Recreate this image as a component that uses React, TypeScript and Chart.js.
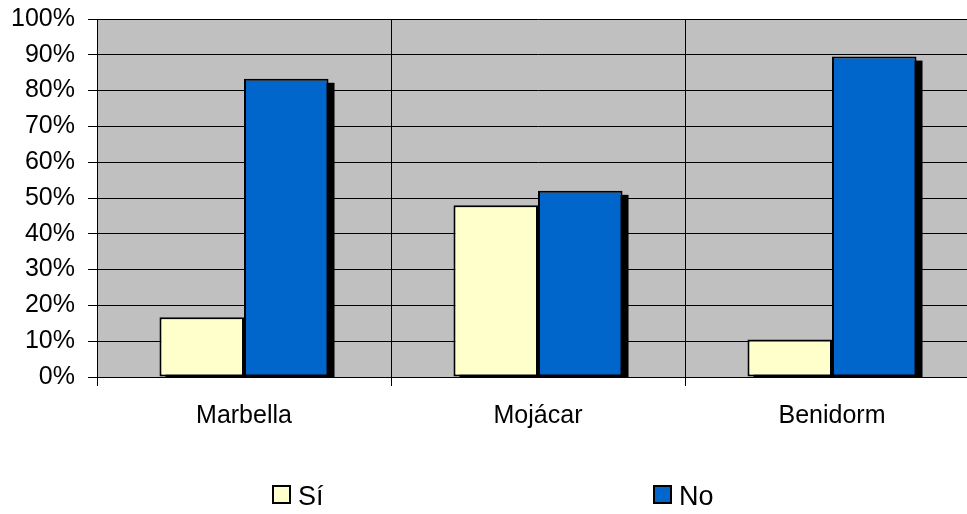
import React, { useEffect, useRef } from "react";
import { Chart, registerables } from "chart.js";

Chart.register(...registerables);

// ---- data ----
const categories = ["Marbella", "Mojácar", "Benidorm"];
const seriesNames = ["Sí", "No"];
const siValues = [16.7, 48, 10.5];
const noValues = [83.3, 52, 89.5];
const yMin = 0;
const yMax = 100;
const yStep = 10;

// ---- styles / layout ----
const seriesColors = ["#FFFFCC", "#0066CC"];
const FONT = "'Liberation Sans', Arial, sans-serif";
const CANVAS_W = 986;
const CANVAS_H = 514;
const LEGEND_BOX_X = [272, 653];
const LEGEND_CY = 494.5;
const LEGEND_BOX = 19;

const bgPlugin = {
  id: "plotBg",
  beforeDraw(chart: any) {
    const { ctx, chartArea } = chart;
    ctx.save();
    ctx.fillStyle = "#C0C0C0";
    ctx.fillRect(chartArea.left, chartArea.top, chartArea.right - chartArea.left, chartArea.bottom - chartArea.top);
    ctx.restore();
  },
};

const shadowPlugin = {
  id: "barShadow",
  beforeDatasetsDraw(chart: any) {
    const { ctx, chartArea } = chart;
    ctx.save();
    ctx.beginPath();
    ctx.rect(chartArea.left, chartArea.top, chartArea.right - chartArea.left, chartArea.bottom - chartArea.top);
    ctx.clip();
    ctx.fillStyle = "#000";
    chart.getSortedVisibleDatasetMetas().forEach((meta: any) => {
      meta.data.forEach((el: any) => {
        const { x, y, base, width } = el.getProps(["x", "y", "base", "width"], true);
        ctx.fillRect(x - width / 2 + 6, y + 4, width, base - y);
      });
    });
    ctx.restore();
  },
};

const legendPlugin = {
  id: "customLegend",
  afterDraw(chart: any) {
    const { ctx } = chart;
    ctx.save();
    chart.data.datasets.forEach((ds: any, i: number) => {
      const bx = LEGEND_BOX_X[i];
      const by = LEGEND_CY - LEGEND_BOX / 2;
      ctx.fillStyle = ds.backgroundColor;
      ctx.fillRect(bx, by, LEGEND_BOX, LEGEND_BOX);
      ctx.strokeStyle = "#000";
      ctx.lineWidth = 2;
      ctx.strokeRect(bx + 1, by + 1, LEGEND_BOX - 2, LEGEND_BOX - 2);
      ctx.fillStyle = "#000";
      ctx.font = `27px ${FONT}`;
      ctx.textBaseline = "alphabetic";
      ctx.textAlign = "left";
      ctx.fillText(ds.label, bx + LEGEND_BOX + 7, 505);
    });
    ctx.restore();
  },
};

export default function App() {
  const ref = useRef<HTMLCanvasElement | null>(null);

  useEffect(() => {
    if (!ref.current) return;
    const chart = new Chart(ref.current, {
      type: "bar",
      data: {
        labels: categories,
        datasets: [
          {
            label: seriesNames[0],
            data: siValues,
            backgroundColor: seriesColors[0],
            borderColor: "#000",
            borderWidth: 2,
            borderSkipped: false,
            barPercentage: 1,
            categoryPercentage: 0.575,
          },
          {
            label: seriesNames[1],
            data: noValues,
            backgroundColor: seriesColors[1],
            borderColor: "#000",
            borderWidth: 2,
            borderSkipped: false,
            barPercentage: 1,
            categoryPercentage: 0.575,
          },
        ],
      },
      options: {
        responsive: false,
        animation: false,
        devicePixelRatio: 1,
        layout: { padding: { top: 0, right: 7, bottom: 0, left: 0 } },
        plugins: {
          legend: { display: false },
          tooltip: { enabled: false },
        },
        scales: {
          x: {
            ticks: { font: { family: FONT, size: 25 }, color: "#000", padding: 15 },
            grid: { color: "#000", lineWidth: 1, offset: true, tickLength: 9, drawTicks: true },
            border: { color: "#000", width: 1 },
            afterFit: (s: any) => {
              s.height = 137;
            },
          },
          y: {
            min: yMin,
            max: yMax,
            ticks: {
              stepSize: yStep,
              callback: (v: any) => `${v}%`,
              font: { family: FONT, size: 25 },
              color: "#000",
              padding: 13,
            },
            grid: { color: "#000", lineWidth: 1, tickLength: 9, drawTicks: true },
            border: { color: "#000", width: 1 },
            afterFit: (s: any) => {
              s.width = 97;
              s.paddingTop = 19;
              s.paddingBottom = 0;
            },
          },
        },
      },
      plugins: [bgPlugin, shadowPlugin, legendPlugin],
    } as any);
    return () => chart.destroy();
  }, []);

  return (
    <div style={{ position: "fixed", left: 0, top: 0, width: 967, height: 514, overflow: "hidden", background: "#fff" }}>
      <canvas ref={ref} width={CANVAS_W} height={CANVAS_H} style={{ display: "block", width: CANVAS_W, height: CANVAS_H }} />
    </div>
  );
}
